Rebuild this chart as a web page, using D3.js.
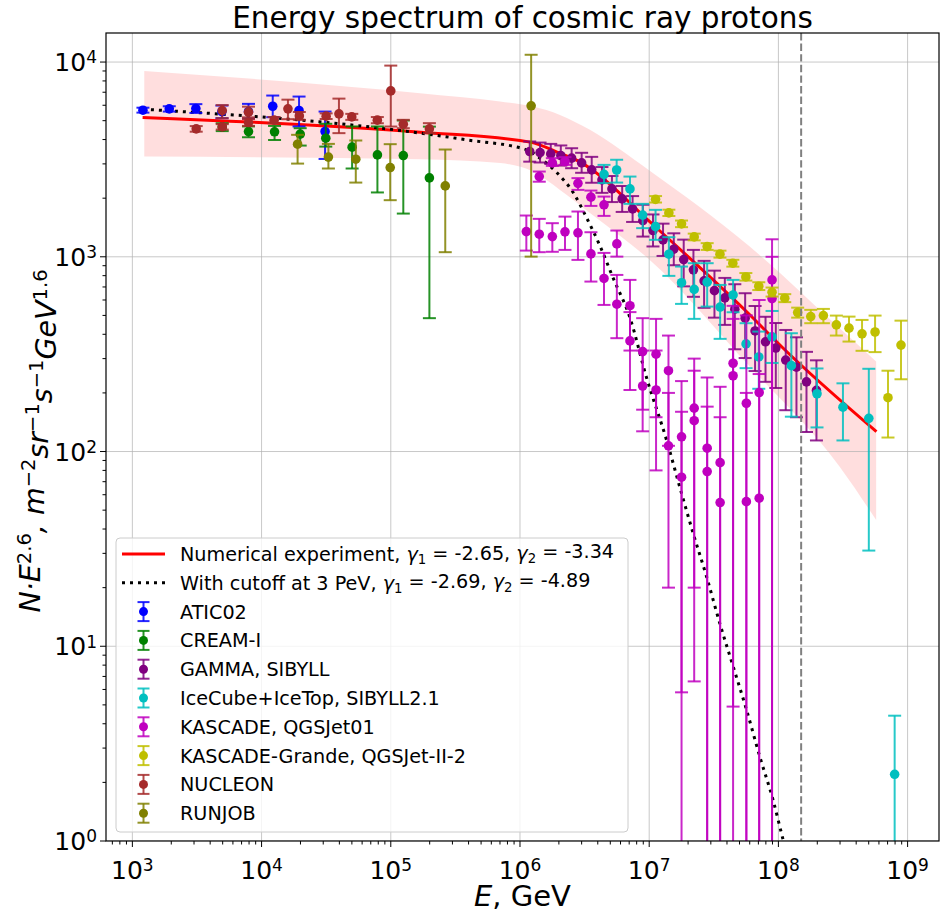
<!DOCTYPE html>
<html>
<head>
<meta charset="utf-8">
<script src="https://cdn.jsdelivr.net/npm/d3@7"></script>
<style>
body { margin: 0; background: #fff; }
text { font-family: "DejaVu Sans", sans-serif; }
</style>
</head>
<body>
<div id="chart"></div>
<script>
var width = 941, height = 915;
var pLeft = 106, pRight = 939, pTop = 33, pBottom = 841;

// rows: [E (GeV), N*E^2.6, lower, upper]
var atic = [
  [1207, 5660, 5500, 5830], [1930, 5750, 5570, 5930], [3100, 5770, 5480, 6080],
  [4930, 5570, 5150, 5980], [7920, 5570, 5130, 6100], [12200, 5930, 5210, 6730],
  [19500, 5640, 4670, 6650], [31000, 4400, 3180, 5570]
];
var cream = [
  [4960, 4634, 4420, 4850], [7920, 4397, 4110, 4670], [12600, 4385, 3980, 4700],
  [19900, 4265, 3725, 4575], [31400, 4065, 3680, 4820], [50200, 3656, 2840, 4670],
  [78800, 3337, 2140, 4670], [125000, 3310, 1667, 5010], [199000, 2542, 484, 4660]
];
var gamma = [
  [1.19e6, 3470, 3080, 3910], [1.43e6, 3430, 3050, 3860], [1.73e6, 3375, 3000, 3800],
  [2.07e6, 3310, 2940, 3730], [2.51e6, 3210, 2850, 3610], [3.0e6, 3035, 2700, 3420],
  [3.59e6, 2795, 2400, 3260], [4.31e6, 2480, 2130, 2890], [5.15e6, 2232, 1910, 2600],
  [6.18e6, 1983, 1700, 2310], [7.44e6, 1762, 1510, 2050], [8.94e6, 1535, 1270, 1850],
  [1.07e7, 1364, 1130, 1650], [1.28e7, 1222, 1010, 1480], [1.55e7, 1094, 905, 1320],
  [1.85e7, 968, 705, 1225], [2.2e7, 857, 623, 1085], [2.66e7, 752, 547, 953],
  [3.2e7, 670, 487, 849], [3.85e7, 615, 447, 779], [4.6e7, 538, 335, 723],
  [5.53e7, 484, 302, 650], [6.6e7, 416, 259, 559], [7.95e7, 366, 228, 492],
  [9.55e7, 340, 212, 457], [1.14e8, 295, 163, 421], [1.38e8, 271, 150, 386],
  [1.65e8, 228, 126, 325], [1.97e8, 206, 114, 294]
];
var icecube = [
  [4.47e6, 2650, 2390, 2965], [5.6e6, 2790, 2405, 3150], [7.1e6, 2232, 1870, 2582],
  [8.9e6, 1636, 1403, 1870], [1.12e7, 1428, 1222, 1742], [1.42e7, 1031, 798, 1261],
  [1.78e7, 736, 573, 891], [2.23e7, 680, 480, 927], [2.81e7, 741, 555, 927],
  [3.54e7, 552, 379, 717], [4.46e7, 637, 519, 761], [5.62e7, 357, 268, 456],
  [7.05e7, 306, 210, 413], [8.93e7, 388, 285, 527], [1.26e8, 276, 151, 405],
  [1.99e8, 198, 133, 267], [3.16e8, 169, 114, 224], [5.01e8, 148, 31, 266],
  [7.94e8, 2.2, 0.01, 4.4]
];
var kascadeA = [
  [1.41e6, 2582, 2430, 2740], [1.78e6, 3035, 2930, 3210], [2.23e6, 3085, 2965, 3250],
  [2.81e6, 2383, 2206, 2535], [3.54e6, 2024, 1825, 2188], [4.47e6, 1849, 1622, 2038],
  [5.62e6, 1165, 1002, 1364], [7.1e6, 561, 330, 761], [8.9e6, 326, 164, 484],
  [1.13e7, 316, 150, 480], [1.41e7, 260, 107, 394], [1.78e7, 119, 5.8, 230],
  [2.23e7, 167, 6.6, 300], [2.81e7, 104, 0.01, 240], [3.54e7, 87.7, 0.01, 215],
  [4.46e7, 284, 4.9, 560], [5.65e7, 177, 0.01, 500], [7.1e7, 201, 0.01, 600],
  [8.93e7, 761, 0.01, 1230]
];
var kascadeB = [
  [1.12e6, 1347, 1076, 1629], [1.41e6, 1306, 1056, 1566], [1.78e6, 1270, 1061, 1488],
  [2.23e6, 1343, 1085, 1608], [2.81e6, 1327, 964, 1708], [3.54e6, 1035, 746, 1337],
  [4.47e6, 774, 566, 1047], [5.62e6, 571, 382, 807], [7.1e6, 370, 207, 520],
  [8.9e6, 217, 127, 330], [1.13e7, 207, 80, 330], [1.41e7, 107, 20, 200],
  [1.78e7, 73.8, 0.01, 160], [2.23e7, 144, 20, 260], [2.81e7, 78.9, 0.01, 170],
  [3.54e7, 54.7, 0.01, 150], [4.46e7, 245, 0.01, 480], [5.65e7, 55.3, 0.01, 200],
  [7.1e7, 57.6, 0.01, 250], [8.93e7, 610, 0.01, 1000]
];
var grande = [
  [1.12e7, 1972, 1900, 2050], [1.42e7, 1680, 1620, 1745], [1.78e7, 1476, 1420, 1535],
  [2.23e7, 1265, 1215, 1315], [2.81e7, 1128, 1085, 1175], [3.53e7, 1032, 990, 1075],
  [4.44e7, 927, 890, 965], [5.6e7, 788, 755, 825], [7.05e7, 706, 675, 740],
  [8.93e7, 658, 625, 695], [1.12e8, 613, 585, 643], [1.41e8, 517, 487, 548],
  [1.78e8, 493, 456, 534], [2.23e8, 499, 456, 540], [2.81e8, 447, 394, 499],
  [3.52e8, 430, 367, 493], [4.44e8, 402, 329, 474], [5.6e8, 411, 324, 499],
  [7.05e8, 189, 118, 260], [8.89e8, 352, 235, 470]
];
var nucleon = [
  [3120, 4540, 4390, 4690], [4960, 5635, 5150, 6010], [4960, 4645, 4500, 4800],
  [7920, 5530, 5200, 5900], [7920, 4890, 4700, 5100], [12500, 5030, 4850, 5220],
  [16000, 5750, 5090, 6410], [19600, 5290, 5050, 5540], [31600, 5275, 5100, 5450],
  [39700, 5420, 4315, 6490], [49900, 5230, 5050, 5420], [78700, 5030, 4850, 5220],
  [100000, 7110, 4665, 9590], [125000, 4800, 4575, 5050], [199000, 4540, 4315, 4855]
];
var runjob = [
  [19000, 3787, 3010, 4230], [32900, 3250, 2840, 3800], [53600, 3170, 2405, 3955],
  [99000, 2872, 1953, 3787], [264000, 2313, 1056, 3555], [1220000, 5960, 1002, 10900]
];

// model curves
var modelE = [1200, 1.7e5, 1.2e6, 2.04e6, 3.0e6, 3.48e6, 1.01e7, 6.0e7, 1.09e8, 5.74e8];
var modelY = [5190, 4365, 3880, 3400, 3035, 2850, 1514, 504, 339, 126.5];
var cutoffE = [1207, 1.69e5, 3.87e5, 1.13e6, 1.43e6, 1.92e6, 2.62e6, 3.28e6, 4.16e6, 5.27e6,
  7.1e6, 9.55e6, 1.36e7, 1.78e7, 2.19e7, 2.78e7, 3.52e7, 4.47e7, 5.67e7, 7.18e7, 9.1e7, 1.09e8, 1.2e8];
var cutoffY = [5730, 4315, 3985, 3540, 3209, 2715, 2104, 1585, 1138, 776,
  486, 239, 115, 61, 38, 22.8, 13.1, 7.86, 4.71, 2.71, 1.62, 1.01, 0.8];
var bandE = [1236, 1.69e5, 7.02e5, 1.26e6, 2.04e6, 3.48e6, 1.01e7, 6.0e7, 2.98e8, 5.71e8];
var bandHi = [9010, 6920, 6270, 5905, 5355, 4485, 2762, 1128, 429, 290];
var bandLo = [3273, 3170, 3027, 2740, 2206, 1680, 964, 273, 83.6, 44.5];
var kneeLine = 1.5e8;

var series = [
  { name: "ATIC02", color: "#0000ff", rows: [atic] },
  { name: "CREAM-I", color: "#008000", rows: [cream] },
  { name: "GAMMA, SIBYLL", color: "#800080", rows: [gamma] },
  { name: "IceCube+IceTop, SIBYLL2.1", color: "#00bfbf", rows: [icecube] },
  { name: "KASCADE, QGSJet01", color: "#bf00bf", rows: [kascadeA, kascadeB] },
  { name: "KASCADE-Grande, QGSJet-II-2", color: "#bfbf00", rows: [grande] },
  { name: "NUCLEON", color: "#a52a2a", rows: [nucleon] },
  { name: "RUNJOB", color: "#808000", rows: [runjob] }
];

var x = d3.scaleLog().domain([625, 1.75e9]).range([pLeft, pRight]);
var y = d3.scaleLog().domain([1, 1.41e4]).range([pBottom, pTop]);

var svg = d3.select("#chart").append("svg")
  .attr("width", width).attr("height", height);

svg.append("defs").append("clipPath").attr("id", "plotclip")
  .append("rect").attr("x", pLeft).attr("y", pTop)
  .attr("width", pRight - pLeft).attr("height", pBottom - pTop);

var plot = svg.append("g").attr("clip-path", "url(#plotclip)");

// uncertainty band
var band = d3.area()
  .x(d => x(d[0])).y0(d => y(d[1])).y1(d => y(d[2]))
  .curve(d3.curveMonotoneX);
plot.append("path")
  .datum(bandE.map((e, i) => [e, bandLo[i], bandHi[i]]))
  .attr("d", band)
  .attr("fill", "#ff0000").attr("fill-opacity", 0.13);

// grid
var majorX = d3.range(3, 10).map(p => Math.pow(10, p));
var majorY = d3.range(0, 5).map(p => Math.pow(10, p));
plot.append("g").selectAll("line").data(majorX).enter().append("line")
  .attr("x1", d => x(d)).attr("x2", d => x(d)).attr("y1", pTop).attr("y2", pBottom)
  .attr("stroke", "#b0b0b0").attr("stroke-opacity", 0.7).attr("stroke-width", 1);
plot.append("g").selectAll("line").data(majorY).enter().append("line")
  .attr("y1", d => y(d)).attr("y2", d => y(d)).attr("x1", pLeft).attr("x2", pRight)
  .attr("stroke", "#b0b0b0").attr("stroke-opacity", 0.7).attr("stroke-width", 1);

// model lines
var line = d3.line().x(d => x(d[0])).y(d => y(d[1])).curve(d3.curveMonotoneX);
plot.append("path")
  .datum(modelE.map((e, i) => [e, modelY[i]]))
  .attr("d", line).attr("fill", "none")
  .attr("stroke", "#ff0000").attr("stroke-width", 3);
plot.append("path")
  .datum(cutoffE.map((e, i) => [e, cutoffY[i]]))
  .attr("d", line).attr("fill", "none")
  .attr("stroke", "#000").attr("stroke-width", 3)
  .attr("stroke-dasharray", "3,5");

// data with error bars
function drawErr(g, rows, color) {
  var grp = g.append("g");
  rows.forEach(r => {
    var cx = x(r[0]);
    var lo = Math.max(r[2], 0.05);
    grp.append("line")
      .attr("x1", cx).attr("x2", cx).attr("y1", y(lo)).attr("y2", y(r[3]))
      .attr("stroke", color).attr("stroke-width", 2).attr("stroke-opacity", 0.85);
    [lo, r[3]].forEach(v => {
      grp.append("line")
        .attr("x1", cx - 6.5).attr("x2", cx + 6.5).attr("y1", y(v)).attr("y2", y(v))
        .attr("stroke", color).attr("stroke-width", 2).attr("stroke-opacity", 0.85);
    });
    grp.append("circle").attr("cx", cx).attr("cy", y(r[1])).attr("r", 4.8)
      .attr("fill", color);
  });
}
series.forEach(s => s.rows.forEach(rows => drawErr(plot, rows, s.color)));

// knee marker
plot.append("line")
  .attr("x1", x(kneeLine)).attr("x2", x(kneeLine)).attr("y1", pTop).attr("y2", pBottom)
  .attr("stroke", "#808080").attr("stroke-width", 2).attr("stroke-dasharray", "7.4,3.2");

// axes frame
svg.append("rect").attr("x", pLeft).attr("y", pTop)
  .attr("width", pRight - pLeft).attr("height", pBottom - pTop)
  .attr("fill", "none").attr("stroke", "#000").attr("stroke-width", 1.2);

var minorX = [], minorY = [];
d3.range(2, 10).forEach(p => d3.range(2, 10).forEach(k => {
  var v = k * Math.pow(10, p);
  if (v > 625 && v < 1.75e9) minorX.push(v);
}));
d3.range(0, 5).forEach(p => d3.range(2, 10).forEach(k => {
  var v = k * Math.pow(10, p);
  if (v < 1.41e4) minorY.push(v);
}));

var ticks = svg.append("g").attr("stroke", "#000").attr("stroke-width", 1);
majorX.forEach(v => ticks.append("line").attr("x1", x(v)).attr("x2", x(v)).attr("y1", pBottom).attr("y2", pBottom + 6));
minorX.forEach(v => ticks.append("line").attr("x1", x(v)).attr("x2", x(v)).attr("y1", pBottom).attr("y2", pBottom + 3.5));
majorY.forEach(v => ticks.append("line").attr("y1", y(v)).attr("y2", y(v)).attr("x1", pLeft).attr("x2", pLeft - 6));
minorY.forEach(v => ticks.append("line").attr("y1", y(v)).attr("y2", y(v)).attr("x1", pLeft).attr("x2", pLeft - 3.5));

// tick labels
function powLabel(sel, p) {
  sel.append("tspan").text("10");
  sel.append("tspan").attr("dy", "-0.45em").attr("font-size", "17px").text(p);
}
majorX.forEach(v => {
  var t = svg.append("text").attr("x", x(v)).attr("y", 879)
    .attr("text-anchor", "middle").attr("font-size", "25px");
  powLabel(t, Math.round(Math.log10(v)));
});
majorY.forEach(v => {
  var t = svg.append("text").attr("x", pLeft - 9).attr("y", y(v) + 9)
    .attr("text-anchor", "end").attr("font-size", "25px");
  powLabel(t, Math.round(Math.log10(v)));
});

// title and axis labels
svg.append("text").attr("x", (pLeft + pRight) / 2).attr("y", 28)
  .attr("text-anchor", "middle").attr("font-size", "29.5px")
  .text("Energy spectrum of cosmic ray protons");

var xl = svg.append("text").attr("x", (pLeft + pRight) / 2).attr("y", 906)
  .attr("text-anchor", "middle").attr("font-size", "29px");
xl.append("tspan").attr("font-style", "italic").text("E");
xl.append("tspan").text(", GeV");

var yl = svg.append("text").attr("transform", "translate(40," + ((pTop + pBottom) / 2 + 4) + ") rotate(-90)")
  .attr("text-anchor", "middle").attr("font-size", "28.5px").attr("font-style", "italic");
[["N\u00b7E", "2.6"], [", m", "\u22122"], ["sr", "\u22121"], ["s", "\u22121"], ["GeV", "1.6"]].forEach((p, i) => {
  yl.append("tspan").attr("dy", i ? "0.45em" : 0).text(p[0]);
  yl.append("tspan").attr("dy", "-0.45em").attr("font-size", "19.5px").attr("font-style", "normal").text(p[1]);
});

// legend
var lg = svg.append("g").attr("transform", "translate(116,538)");
lg.append("rect").attr("width", 512).attr("height", 294).attr("rx", 4)
  .attr("fill", "#fff").attr("fill-opacity", 0.8).attr("stroke", "#cccccc");
var rowY = i => 16 + i * 28.8;

lg.append("line").attr("x1", 6).attr("x2", 49).attr("y1", rowY(0)).attr("y2", rowY(0))
  .attr("stroke", "#ff0000").attr("stroke-width", 3);
lg.append("line").attr("x1", 6).attr("x2", 49).attr("y1", rowY(1)).attr("y2", rowY(1))
  .attr("stroke", "#000").attr("stroke-width", 3).attr("stroke-dasharray", "3,5");

function gammaText(t, a, b) {
  t.append("tspan").attr("font-style", "italic").text("\u03b3");
  t.append("tspan").attr("dy", "0.25em").attr("font-size", "13.3px").text("1");
  t.append("tspan").attr("dy", "-0.25em").text(" = " + a + ", ");
  t.append("tspan").attr("font-style", "italic").text("\u03b3");
  t.append("tspan").attr("dy", "0.25em").attr("font-size", "13.3px").text("2");
  t.append("tspan").attr("dy", "-0.25em").text(" = " + b);
}
var t0 = lg.append("text").attr("x", 64).attr("y", rowY(0) + 7).attr("font-size", "19.2px");
t0.append("tspan").text("Numerical experiment, ");
gammaText(t0, "-2.65", "-3.34");
var t1 = lg.append("text").attr("x", 64).attr("y", rowY(1) + 7).attr("font-size", "19.2px");
t1.append("tspan").text("With cutoff at 3 PeV, ");
gammaText(t1, "-2.69", "-4.89");

series.forEach((s, i) => {
  var cy = rowY(i + 2), cx = 27.5;
  lg.append("line").attr("x1", cx).attr("x2", cx).attr("y1", cy - 9.5).attr("y2", cy + 9.5)
    .attr("stroke", s.color).attr("stroke-width", 2).attr("stroke-opacity", 0.85);
  [cy - 9.5, cy + 9.5].forEach(v => lg.append("line")
    .attr("x1", cx - 6).attr("x2", cx + 6).attr("y1", v).attr("y2", v)
    .attr("stroke", s.color).attr("stroke-width", 2).attr("stroke-opacity", 0.85));
  lg.append("circle").attr("cx", cx).attr("cy", cy).attr("r", 4.5).attr("fill", s.color);
  lg.append("text").attr("x", 64).attr("y", cy + 7).attr("font-size", "19.2px").text(s.name);
});
</script>
</body>
</html>
